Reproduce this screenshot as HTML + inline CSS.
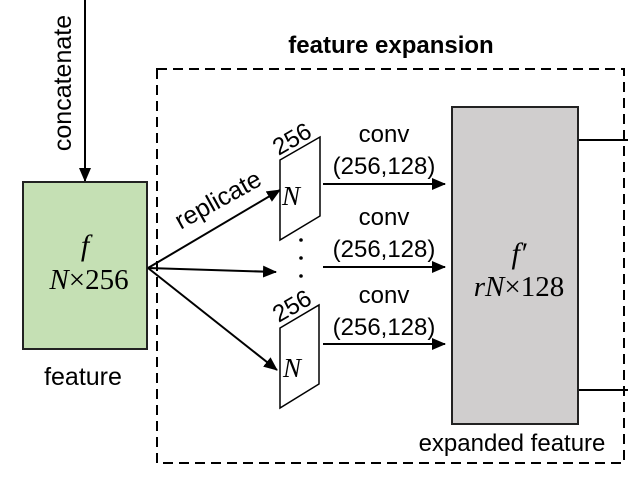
<!DOCTYPE html>
<html><head><style>body{margin:0;background:#fff}svg{display:block}</style></head><body>
<svg width="628" height="502" viewBox="0 0 628 502" xmlns="http://www.w3.org/2000/svg" font-family="Liberation Sans, sans-serif">
<defs><marker id="b" markerWidth="14" markerHeight="12" refX="13" refY="6" orient="auto" markerUnits="userSpaceOnUse"><path d="M0,0 L14,6 L0,12 z" fill="#000"/></marker></defs>
<line x1="85" y1="0" x2="85" y2="181" stroke="#000" stroke-width="2" marker-end="url(#b)"/>
<text transform="translate(71,83) rotate(-90)" font-size="25" text-anchor="middle">concatenate</text>
<text x="391" y="53" font-size="24" font-weight="bold" text-anchor="middle">feature expansion</text>
<rect x="157" y="69" width="467" height="394" fill="none" stroke="#000" stroke-width="2" stroke-dasharray="10,6"/>
<rect x="23" y="182" width="124" height="167" fill="#c5e0b4" stroke="#222" stroke-width="2"/>
<text x="85" y="255" font-size="30" font-style="italic" font-family="Liberation Serif, serif" text-anchor="middle">f</text>
<text x="89" y="289" font-size="29" font-family="Liberation Serif, serif" text-anchor="middle"><tspan font-style="italic">N</tspan>×256</text>
<text x="83" y="385" font-size="25" text-anchor="middle">feature</text>
<line x1="148" y1="268" x2="280" y2="190" stroke="#000" stroke-width="2" marker-end="url(#b)"/>
<line x1="148" y1="268" x2="276" y2="272" stroke="#000" stroke-width="2" marker-end="url(#b)"/>
<line x1="148" y1="268" x2="277" y2="370" stroke="#000" stroke-width="2" marker-end="url(#b)"/>
<text transform="translate(222,207) rotate(-29)" font-size="25" text-anchor="middle">replicate</text>
<polygon points="280,160 320,137 320,216 280,240" fill="#fff" stroke="#000" stroke-width="1.5"/>
<polygon points="280,328 319,305 319,384 280,408" fill="#fff" stroke="#000" stroke-width="1.5"/>
<text x="291" y="205" font-size="27" font-style="italic" font-family="Liberation Serif, serif" text-anchor="middle">N</text>
<text x="292" y="377" font-size="27" font-style="italic" font-family="Liberation Serif, serif" text-anchor="middle">N</text>
<text transform="translate(296,146) rotate(-30)" font-size="24" text-anchor="middle">256</text>
<text transform="translate(296,313) rotate(-30)" font-size="24" text-anchor="middle">256</text>
<circle cx="301" cy="240" r="1.8"/><circle cx="301" cy="258" r="1.8"/><circle cx="301" cy="276" r="1.8"/>
<g font-size="24" text-anchor="middle">
<text x="384" y="142">conv</text><text x="384" y="174">(256,128)</text>
<text x="384" y="225">conv</text><text x="384" y="257">(256,128)</text>
<text x="384" y="303">conv</text><text x="384" y="335">(256,128)</text></g>
<line x1="323" y1="184" x2="445" y2="184" stroke="#000" stroke-width="2" marker-end="url(#b)"/>
<line x1="323" y1="267" x2="445" y2="267" stroke="#000" stroke-width="2" marker-end="url(#b)"/>
<line x1="323" y1="344" x2="445" y2="344" stroke="#000" stroke-width="2" marker-end="url(#b)"/>
<rect x="452" y="107" width="126" height="317" fill="#d0cece" stroke="#222" stroke-width="2"/>
<text x="519" y="263" font-size="30" font-style="italic" font-family="Liberation Serif, serif" text-anchor="middle">f′</text>
<text x="519" y="296" font-size="29" font-family="Liberation Serif, serif" text-anchor="middle"><tspan font-style="italic">rN</tspan>×128</text>
<line x1="579" y1="140" x2="628" y2="140" stroke="#000" stroke-width="2"/>
<line x1="579" y1="390" x2="628" y2="390" stroke="#000" stroke-width="2"/>
<text x="512" y="451" font-size="24" text-anchor="middle">expanded feature</text>
</svg>
</body></html>
